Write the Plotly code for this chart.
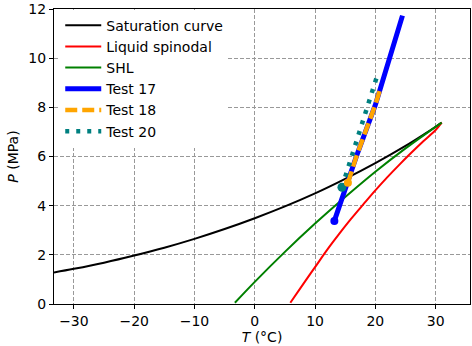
import plotly.graph_objects as go

# Saturation curve (CO2)
sat_T = [-33.3, -30, -25, -20, -15, -10, -5, 0, 5, 10, 15, 20, 25, 28, 30, 31.0]
sat_P = [1.28, 1.43, 1.68, 1.97, 2.29, 2.65, 3.05, 3.49, 3.97, 4.50, 5.09, 5.73, 6.43, 6.89, 7.21, 7.38]

# Liquid spinodal
spin_T = [5.9, 8, 10, 12, 14, 16, 18, 20, 22, 24, 26, 28, 30, 31.0]
spin_P = [0.05, 0.8, 1.5, 2.2, 2.85, 3.47, 4.05, 4.62, 5.16, 5.67, 6.16, 6.63, 7.08, 7.38]

# SHL
shl_T = [-3.3, 0, 5, 10, 15, 20, 25, 31.0]
shl_P = [0.05, 0.9, 2.12, 3.27, 4.35, 5.38, 6.33, 7.38]

# Tests
t17_T = [13.2, 16.85, 20.0, 22.3, 24.5]
t17_P = [3.38, 6.0, 8.1, 9.98, 11.73]
t18_T = [15.45, 16.85, 20.0, 20.85]
t18_P = [4.93, 6.0, 8.1, 8.78]
t20_T = [14.46, 20.35]
t20_P = [4.75, 9.32]

x_ticks = [-30, -20, -10, 0, 10, 20, 30]
y_ticks = [0, 2, 4, 6, 8, 10, 12]

FS = 14

fig = go.Figure()
fig.add_trace(go.Scatter(x=sat_T, y=sat_P, mode="lines", name="Saturation curve",
                         line=dict(color="black", width=2, shape="spline")))
fig.add_trace(go.Scatter(x=spin_T, y=spin_P, mode="lines", name="Liquid spinodal",
                         line=dict(color="red", width=2, shape="spline")))
fig.add_trace(go.Scatter(x=shl_T, y=shl_P, mode="lines", name="SHL",
                         line=dict(color="green", width=2, shape="spline")))
fig.add_trace(go.Scatter(x=t17_T, y=t17_P, mode="lines", name="Test 17",
                         line=dict(color="blue", width=5)))
fig.add_trace(go.Scatter(x=t18_T, y=t18_P, mode="lines", name="Test 18",
                         line=dict(color="orange", width=4.5, dash="12px,5px")))
fig.add_trace(go.Scatter(x=t20_T, y=t20_P, mode="lines", name="Test 20",
                         line=dict(color="teal", width=4.5, dash="4px,7px")))
# start markers
fig.add_trace(go.Scatter(x=[t17_T[0]], y=[t17_P[0]], mode="markers", showlegend=False,
                         marker=dict(color="blue", size=8)))
fig.add_trace(go.Scatter(x=[t20_T[0]], y=[t20_P[0]], mode="markers", showlegend=False,
                         marker=dict(color="teal", size=9)))
fig.add_trace(go.Scatter(x=[t18_T[0]], y=[t18_P[0]], mode="markers", showlegend=False,
                         marker=dict(color="orange", size=8)))

axis_common = dict(
    showline=True, linecolor="black", linewidth=1, mirror=True,
    ticks="outside", ticklen=4, tickcolor="black",
    showgrid=True, gridcolor="#999999", gridwidth=1, griddash="4px,2px",
    zeroline=False, ticklabeloverflow="allow",
    tickfont=dict(family="DejaVu Sans", size=FS, color="black"),
)

fig.update_xaxes(range=[-33.3, 35.7], tickvals=x_ticks,
                 title=dict(text="<i>T</i> (°C)", font=dict(family="DejaVu Sans", size=FS, color="black"), standoff=1),
                 **axis_common)
fig.update_yaxes(range=[0, 12], tickvals=y_ticks,
                 title=dict(text="<i>P</i> (MPa)", font=dict(family="DejaVu Sans", size=FS, color="black"), standoff=6),
                 **axis_common)

fig.update_layout(
    width=472, height=346,
    margin=dict(l=54, r=1, t=6, b=42),
    plot_bgcolor="white", paper_bgcolor="white",
    font=dict(family="DejaVu Sans", size=FS, color="black"),
    legend=dict(x=0.015, y=0.998, xanchor="left", yanchor="top",
                bgcolor="white", borderwidth=0, itemwidth=36,
                font=dict(family="DejaVu Sans", size=FS, color="black"),
                tracegroupgap=0),
)

fig.write_html("out.html")
